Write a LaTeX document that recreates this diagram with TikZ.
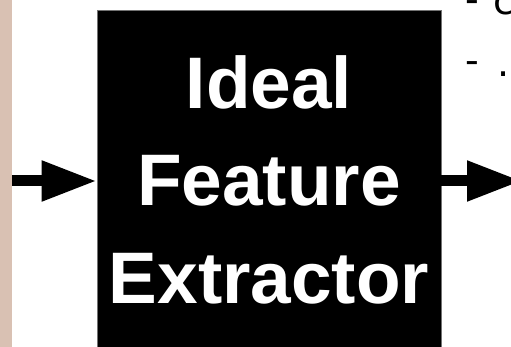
\documentclass[tikz,border=0pt]{standalone}
\usepackage{fontspec}
\setmainfont{Liberation Sans}
\newfontfamily\notefont{DejaVu Sans}
\usetikzlibrary{arrows.meta}
\definecolor{stripcol}{RGB}{217,193,179}
\tikzset{
  block/.style={fill=black, draw=black!55, line width=0.6pt, minimum width=344pt, minimum height=342pt, inner sep=0pt},
  blocktext/.style={text=white, font=\fontsize{73}{97.5}\selectfont\bfseries, align=center, inner sep=0pt},
  flow/.style={line width=11pt, -{Triangle[length=55pt,width=38pt]}},
  note/.style={font=\notefont\fontsize{38}{44}\selectfont, inner sep=0pt, anchor=base west}
}

\begin{document}
\begin{tikzpicture}[x=1pt,y=-1pt]
  \useasboundingbox (0,0) rectangle (511,347);
  \clip (0,0) rectangle (511,347);
  \fill[stripcol] (0,0) rectangle (12,347);
  \node[block] (extractor) at (269,181) {};
  \node[blocktext, anchor=base] (label) at (269,303) {Ideal\\Feature\\Extractor};
  \coordinate (source) at (12,181);
  \coordinate (target) at (522,181);
  \draw[flow] (source) -- (extractor.west);
  \draw[flow] (extractor.east) -- (target);
  \node[note] (dashone) at (465,12.5) {-};
  \node[note] (itemone) at (493,15) {c};
  \node[note] (dashtwo) at (465,73.5) {-};
  \node[note] (itemtwo) at (497,77) {.};
\end{tikzpicture}
\end{document}
